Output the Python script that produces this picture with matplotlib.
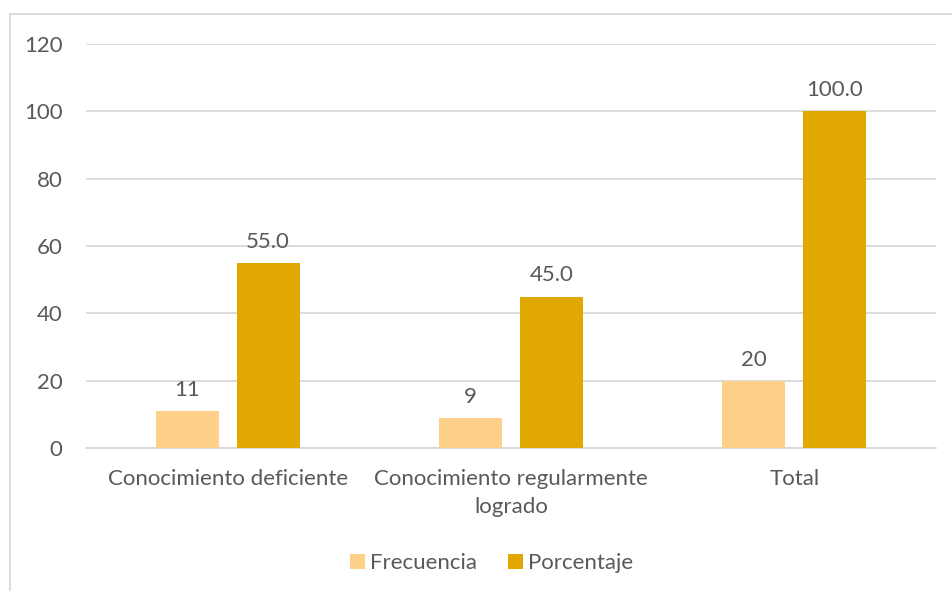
import numpy as np
import matplotlib.pyplot as plt
from matplotlib.lines import Line2D

plt.rcParams['font.family'] = ['Lato', 'DejaVu Sans']

# ── data ────────────────────────────────────────────────
categorias = ["Conocimiento deficiente", "Conocimiento regularmente\nlogrado", "Total"]
frecuencia = [11, 9, 20]
porcentaje = [55.0, 45.0, 100.0]
y_ticks = [0, 20, 40, 60, 80, 100, 120]

C_FREC = "#FFD08A"
C_PORC = "#E0A800"
C_TEXT = "#595959"
C_GRID = "#D9D9D9"
FS = 16

fig = plt.figure(figsize=(9.52, 5.91), dpi=100)
W, H = 952, 591
ax = fig.add_axes([86 / W, 1 - 448 / H, (936 - 86) / W, (448 - 44) / H])

x = np.arange(len(categorias))
bw = 0.222
gap = 0.0635
off = (bw + gap) / 2

b1 = ax.bar(x - off, frecuencia, bw, color=C_FREC, label="Frecuencia", zorder=3)
b2 = ax.bar(x + off, porcentaje, bw, color=C_PORC, label="Porcentaje", zorder=3)

for rect, v in zip(b1, frecuencia):
    ax.annotate(f"{v}", (rect.get_x() + rect.get_width() / 2, v),
                xytext=(0, 8), textcoords="offset points", ha="center",
                va="bottom", fontsize=FS, color=C_TEXT)
for rect, v in zip(b2, porcentaje):
    ax.annotate(f"{v:.1f}", (rect.get_x() + rect.get_width() / 2, v),
                xytext=(0, 8), textcoords="offset points", ha="center",
                va="bottom", fontsize=FS, color=C_TEXT)

ax.set_xlim(-0.5, len(categorias) - 0.5)
ax.set_ylim(0, 120)
ax.set_yticks(y_ticks)
ax.set_xticks(x)
ax.set_xticklabels(categorias, fontsize=FS, color=C_TEXT, linespacing=1.5)
ax.tick_params(axis="y", labelsize=FS, labelcolor=C_TEXT, length=0, pad=17)
ax.tick_params(axis="x", length=0, pad=15)
ax.grid(axis="y", color=C_GRID, linewidth=1.3, zorder=0)
for s in ["top", "right", "left"]:
    ax.spines[s].set_visible(False)
ax.spines["bottom"].set_color(C_GRID)
ax.spines["bottom"].set_linewidth(1.3)

fig.legend(handles=[b1, b2], loc="center", bbox_to_anchor=(492 / W, 1 - 563 / H),
           ncol=2, frameon=False, fontsize=FS, labelcolor=C_TEXT,
           handlelength=0.65, handleheight=0.65, handletextpad=0.25, columnspacing=1.4)

# chart frame
fig.add_artist(Line2D([10 / W, 10 / W], [0, 1 - 14 / H], transform=fig.transFigure,
                      color=C_GRID, linewidth=1.3))
fig.add_artist(Line2D([10 / W, 1], [1 - 14 / H, 1 - 14 / H], transform=fig.transFigure,
                      color=C_GRID, linewidth=1.3))

fig.savefig("out.png", dpi=100)
